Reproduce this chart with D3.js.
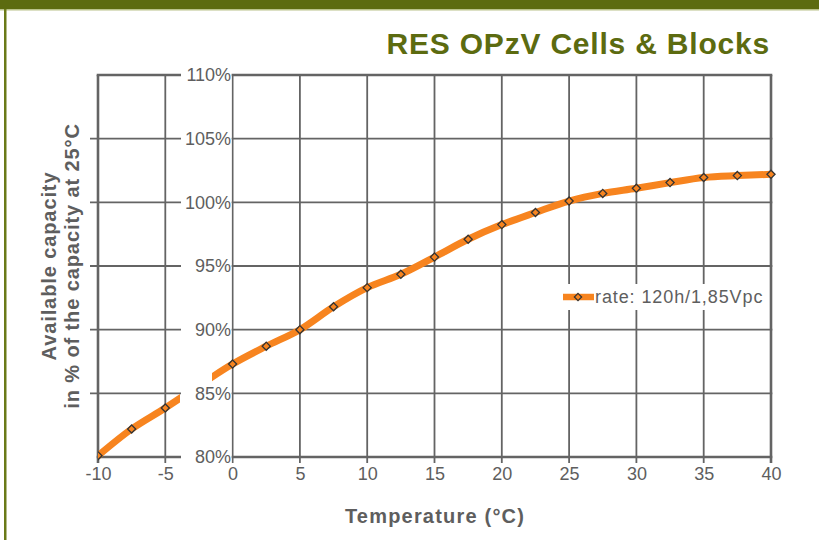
<!DOCTYPE html>
<html>
<head>
<meta charset="utf-8">
<script src="https://cdn.jsdelivr.net/npm/d3@7"></script>
<style>
  body { margin: 0; background: #fff; }
  svg { display: block; font-family: "Liberation Sans", Arial, sans-serif; }
</style>
</head>
<body>
<div id="chart"></div>
<script>
// Chart data
const temperatures = [-10, -7.5, -5, -2.5, 0, 2.5, 5, 7.5, 10, 12.5, 15, 17.5, 20, 22.5, 25, 27.5, 30, 32.5, 35, 37.5, 40];
const capacities = [80.1, 82.2, 83.85, 85.6, 87.3, 88.7, 90.0, 91.8, 93.3, 94.35, 95.7, 97.1, 98.25, 99.2, 100.1, 100.7, 101.1, 101.55, 101.95, 102.1, 102.2];
const xTicks = [-10, -5, 0, 5, 10, 15, 20, 25, 30, 35, 40];
const yTicks = [80, 85, 90, 95, 100, 105, 110];
const seriesName = "rate: 120h/1,85Vpc";
const chartTitle = "RES OPzV Cells & Blocks";
const xTitle = "Temperature (°C)";
const yTitleLines = ["Available capacity", "in % of the capacity at 25°C"];

// Colours
const olive = "#5c6b10";
const orange = "#f7841f";
const gridColor = "#646464";
const textColor = "#5e5e5e";

function createCapacityChart(containerId) {
  const W = 819, H = 540;
  const left = 98, right = 771, top = 75, bottom = 457;
  const leftPanelEnd = 180; // the small panel for negative temperatures stops here
  const lineResume = 212; // orange curve reappears here

  d3.select(containerId).html("");

  const svg = d3
    .select(containerId)
    .append("svg")
    .attr("width", W)
    .attr("height", H);

  // Scales
  const x = d3.scaleLinear().domain([-10, 40]).range([left, right]);
  const y = d3.scaleLinear().domain([80, 110]).range([bottom, top]);

  // Frame: top band and left border
  svg.append("rect").attr("x", 0).attr("y", 0).attr("width", W).attr("height", 9).attr("fill", olive);
  svg.append("rect").attr("x", 0).attr("y", 9).attr("width", W).attr("height", 1.5).attr("fill", "#b9c28a");
  svg.append("rect").attr("x", 4).attr("y", 9).attr("width", 2.5).attr("height", H).attr("fill", "#6a7a18");

  // Title
  svg
    .append("text")
    .attr("x", 770)
    .attr("y", 54)
    .attr("text-anchor", "end")
    .attr("font-size", "30px")
    .attr("font-weight", "bold")
    .attr("letter-spacing", "0.8px")
    .attr("fill", olive)
    .text(chartTitle);

  // Clip regions
  const defs = svg.append("defs");
  defs.append("clipPath").attr("id", "clip-left")
    .append("rect").attr("x", left).attr("y", top - 10).attr("width", leftPanelEnd - left).attr("height", bottom - top + 20);
  defs.append("clipPath").attr("id", "clip-right")
    .append("rect").attr("x", lineResume).attr("y", top - 10).attr("width", right - lineResume + 10).attr("height", bottom - top + 20);

  // Vertical gridlines (with small ticks below the axis)
  svg
    .append("g")
    .selectAll("line")
    .data(xTicks)
    .enter()
    .append("line")
    .attr("x1", (d) => x(d))
    .attr("x2", (d) => x(d))
    .attr("y1", top)
    .attr("y2", bottom + 6)
    .attr("stroke", gridColor)
    .attr("stroke-width", (d) => (d === -10 || d === 40 ? 2.6 : 1.8));

  // Horizontal gridlines
  svg
    .append("g")
    .selectAll("line")
    .data(yTicks)
    .enter()
    .append("line")
    .attr("x1", (d) => (d === 80 || d === 110 ? left - 1.3 : left - 8))
    .attr("x2", right + 1.3)
    .attr("y1", (d) => y(d))
    .attr("y2", (d) => y(d))
    .attr("stroke", gridColor)
    .attr("stroke-width", (d) => (d === 80 || d === 110 ? 2.6 : 1.8));

  // White gap between the two panels, used for the y labels
  svg
    .append("rect")
    .attr("x", leftPanelEnd + 1)
    .attr("y", top - 12)
    .attr("width", x(0) - leftPanelEnd - 2)
    .attr("height", bottom - top + 24)
    .attr("fill", "#fff");

  // Y axis labels
  svg
    .append("g")
    .attr("transform", `translate(${x(0) - 1.5},0)`)
    .call(d3.axisLeft(y).tickValues(yTicks).tickSize(0).tickPadding(0).tickFormat((d) => d + "%"))
    .call((g) => g.select(".domain").remove())
    .selectAll("text")
    .attr("font-family", "Liberation Sans, Arial, sans-serif")
    .style("font-size", "18px")
    .attr("fill", textColor);

  // X axis labels
  svg
    .append("g")
    .attr("transform", `translate(0,${bottom})`)
    .call(d3.axisBottom(x).tickValues(xTicks).tickSize(0).tickPadding(10).tickFormat((d) => d))
    .call((g) => g.select(".domain").remove())
    .selectAll("text")
    .attr("font-family", "Liberation Sans, Arial, sans-serif")
    .style("font-size", "18px")
    .attr("fill", textColor);

  // Series line and markers, drawn in both panels
  const points = temperatures.map((t, i) => ({ t: t, v: capacities[i] }));
  const line = d3
    .line()
    .x((d) => x(d.t))
    .y((d) => y(d.v))
    .curve(d3.curveCatmullRom.alpha(0.5));

  ["clip-left", "clip-right"].forEach((clipId) => {
    const g = svg.append("g").attr("clip-path", `url(#${clipId})`);
    g.append("path")
      .datum(points)
      .attr("d", line)
      .attr("fill", "none")
      .attr("stroke", orange)
      .attr("stroke-width", 7);
    g.selectAll(".marker")
      .data(points)
      .enter()
      .append("path")
      .attr("class", "marker")
      .attr("d", d3.symbol().type(d3.symbolDiamond2).size(42))
      .attr("transform", (d) => `translate(${x(d.t)},${y(d.v)})`)
      .attr("fill", orange)
      .attr("stroke", "#333")
      .attr("stroke-width", 1.3);
  });

  // Legend
  const legend = svg.append("g").attr("transform", "translate(562,297)");
  legend.append("rect").attr("x", 0).attr("y", -13).attr("width", 204).attr("height", 26).attr("fill", "#fff");
  legend.append("line").attr("x1", 1).attr("x2", 32).attr("y1", 0).attr("y2", 0).attr("stroke", orange).attr("stroke-width", 6.5);
  legend
    .append("path")
    .attr("d", d3.symbol().type(d3.symbolDiamond2).size(34))
    .attr("transform", "translate(16,0)")
    .attr("fill", orange)
    .attr("stroke", "#333")
    .attr("stroke-width", 1.2);
  legend
    .append("text")
    .attr("x", 33)
    .attr("y", 0)
    .attr("dy", "0.35em")
    .attr("font-size", "18px")
    .attr("letter-spacing", "0.9px")
    .attr("fill", textColor)
    .text(seriesName);

  // Axis titles
  svg
    .append("text")
    .attr("x", 435)
    .attr("y", 523)
    .attr("text-anchor", "middle")
    .attr("font-size", "20px")
    .attr("font-weight", "bold")
    .attr("letter-spacing", "1.2px")
    .attr("fill", textColor)
    .text(xTitle);

  svg
    .append("text")
    .attr("transform", "translate(56,266) rotate(-90)")
    .attr("text-anchor", "middle")
    .attr("font-size", "20px")
    .attr("font-weight", "bold")
    .attr("letter-spacing", "0.9px")
    .attr("fill", textColor)
    .selectAll("tspan")
    .data(yTitleLines)
    .enter()
    .append("tspan")
    .attr("x", 0)
    .attr("dy", (d, i) => (i === 0 ? 0 : 23))
    .text((d) => d);
}

createCapacityChart("#chart");
</script>
</body>
</html>
